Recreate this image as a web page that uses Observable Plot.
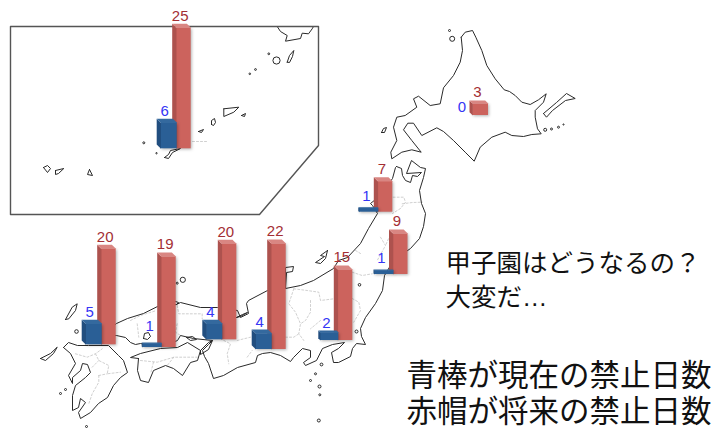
<!DOCTYPE html>
<html lang="ja">
<head>
<meta charset="utf-8">
<title>禁止日数</title>
<script src="https://cdn.jsdelivr.net/npm/d3@7"></script>
<script src="https://cdn.jsdelivr.net/npm/@observablehq/plot@0.6"></script>
<style>
  html, body { margin: 0; padding: 0; background: #fff; }
  svg { display: block; }
</style>
</head>
<body>
<div id="chart"></div>
<script>
// Number of banned days per region: current (blue) and future (red).
const regions = ["沖縄", "北海道", "東北北部", "東北南部", "関東甲信越", "東海", "近畿", "中国四国", "九州"];
const currentDays = [6, 0, 1, 1, 2, 4, 4, 1, 5];
const futureDays = [25, 3, 7, 9, 15, 22, 20, 19, 20];

// Where each region's column stands on the map, in map units.
const siteX = [171.7, 469, 373.3, 388.5, 333.3, 266.7, 217.3, 156.7, 96.7];
const siteY = [148.3, 115, 211.7, 274, 340, 349, 339.3, 347, 344.3];
const currentLabelLift = [7.5, 8, 11, 11.5, 7, 7.5, 7.5, 16, 7.5];

// Outline of the Okinawa inset box.
const insetFrame = [[10, 26], [318, 26], [318, 145], [259, 214], [10, 214], [10, 26]];

// Coastlines, in map units.
const hokkaido = [[460.7,36.7],[464.7,31.7],[472,30],[475.3,36.7],[481.3,50],[486.3,65],[494.7,78.3],[503.7,89.3],[509,91],[514.7,95],[521.3,101.7],[529.7,104],[538,99.3],[545.7,93.3],[543,101.7],[534.7,110],[534.7,116.7],[537,128.3],[540.7,133.3],[531.3,134],[523,136],[511.3,135],[504.7,131.7],[491.3,136.7],[479.7,146.7],[473.7,160.7],[464.7,151.7],[453,140],[443,131],[436.3,127.3],[421.3,135],[413,122.7],[407.3,122.7],[403,129.3],[411.3,140],[420.7,151.7],[411.3,149.3],[401.3,151.7],[391.3,158.3],[390.3,151.7],[396.3,140],[393,126.7],[396.3,116.7],[404.7,115],[416.3,106.7],[413,98.3],[418,95.7],[429.7,105],[439.7,103.3],[443,87.3],[453,75],[459.7,61.7],[462,50],[460.7,36.7]];
const honshu = [[396,166],[401,168],[402,175],[405,180],[410,182],[412,175],[417,176],[421,172],[406,173],[411,160],[420,167],[425,168],[423,177],[419,190],[421,203],[425,213],[423,226],[419,238],[410,248],[400,255],[390,265],[384,275],[382,290],[375,303],[365,317],[360,328],[361,336],[365,344],[356,343],[352,348],[350,356],[338,362],[333,362],[331,352],[338,348],[344,342],[332,344],[322,348],[316,360],[305,365],[303,362],[310,357],[310,350],[302,348],[293,357],[290,361],[280,355],[270,352],[262,353],[257,355],[255,362],[237,367],[223,375],[213,378],[208,363],[204,356],[202,350],[208,344],[212,340],[193,338],[180,335],[177,340],[165,345],[150,345],[140,343],[135,344],[130,342],[125,337],[116,335],[112,335],[110,328],[116,323],[127,318],[143,313],[157,306],[176,304],[180,302],[200,307],[217,307],[237,310],[240,317],[248,313],[246,303],[248,300],[267,290],[285,288],[285,267],[293,266],[292,271],[286,272],[285,288],[300,285],[313,280],[333,268],[338,260],[347,257],[360,243],[368,228],[377,213],[372,205],[370,203],[380,195],[392,178],[395,167],[396,166]];
const shikoku = [[138,358],[130,357],[140,353],[160,348],[177,347],[187,342],[200,350],[197,360],[190,362],[182,375],[173,368],[165,365],[153,370],[148,382],[140,380],[137,370],[138,358]];
const kyushu = [[63,347],[68,342],[77,345],[88,345],[108,345],[118,355],[123,360],[127,372],[120,377],[113,385],[107,397],[98,403],[90,412],[80,418],[78,412],[85,402],[80,398],[78,407],[72,410],[72,395],[75,385],[85,377],[90,372],[87,364],[82,363],[80,370],[72,377],[72,383],[68,375],[75,363],[70,353],[63,347]];
const islands = [
  // Kunashiri, Okushiri, Sado, Tsushima, Goto, Awaji, Shodoshima
  [[543,113],[556,102],[566,93],[574.7,98],[565,100],[552,110],[546,116.7],[543,113]],
  [[381,132],[383,128],[386,127],[384,132],[381,132]],
  [[327,250],[320,255],[324,256],[315,262],[320,263],[325,258],[327,250]],
  [[65,319],[71.7,306.7],[76.7,303.3],[75,310],[68.3,318.3],[65,319]],
  [[40,358],[50,353],[56.7,346.7],[53,353],[45,360],[40,358]],
  [[200,350],[208,342],[212,340],[208,349],[200,354],[200,350]],
  [[186,337],[192,336],[196,339],[190,340],[186,337]],
  // Inland Sea and Wakasa Bay scraps
  [[143,338],[144,333],[148,332],[150,336],[147,339],[143,338]],
  [[175,301],[178,302],[176,304]],
  [[236,317],[242,314],[247,312],[240,316],[236,317]],
  // Kyushu tip and the Nansei chain, inside the inset
  [[276.7,26],[280,31],[286.7,35],[285,40.7],[300,38],[301.7,32.7],[308,33.3],[311.7,28.3],[313,26]],
  [[286.7,61.7],[289,55],[293.3,50],[292,56],[289,62],[286.7,61.7]],
  [[223.3,108.3],[238.3,106.7],[233.3,111.7],[223.3,116],[223.3,108.3]],
  [[241,115],[245,113],[244,116],[241,115]],
  [[211,124],[211,120],[214,118],[215,122],[213,125],[211,124]],
  [[198,131],[203,129],[201,132],[198,131]],
  [[164,157],[168,154],[170,150],[180,148],[172,152],[168,158],[164,157]],
  [[43,167],[47,165],[50,168],[47,172],[43,167]],
  [[55,170],[63.3,168],[58,173],[55,174],[55,170]],
  [[89,169],[92,175],[87,174],[89,169]]
];

// Prefectural boundaries.
const borders = [
  [[392.7,196.7],[403.3,196.7],[405,201.7],[400,208],[392,213]],
  [[401.7,203.3],[412,202],[421.7,201.7]],
  [[380,236.7],[385,245],[376.7,260]],
  [[388,238.3],[385,245]],
  [[355,250],[360,253]],
  [[351.7,271.7],[361.7,275],[371.7,273.3]],
  [[351.7,298],[358.3,301.7],[360,310],[353.3,321.7]],
  [[293.3,288.3],[306.7,290],[318.3,291.7],[320,300],[333.3,298.3]],
  [[293.3,288.3],[288.3,303.3],[295,311.7],[300,323.3],[298.3,333.3],[303.3,340]],
  [[310,300],[310,311.7],[305,320],[300,323.3]],
  [[320,320],[310,328.3]],
  [[285,336.7],[293.3,336.7],[298.3,333.3]],
  [[223.3,340],[230,343.3],[226.7,353.3],[228.3,363.3]],
  [[236.7,340],[243.3,338.3],[250,336.7]],
  [[246.7,356.7],[251.7,350]],
  [[176.7,305],[178.3,313.3],[201.7,313.3],[201.7,318.3]],
  [[130,320],[140,315],[156,310]],
  [[176.7,323.3],[175,331.7],[180,335]],
  [[136.7,323.3],[138.3,336.7]],
  [[140,360],[156.7,361.7],[173.3,356.7],[196.7,356.7]],
  [[173.3,356.7],[166.7,365]],
  [[153,361.7],[150,373.3]],
  [[75,353.3],[86.7,356.7],[95,353.3],[101.7,348.3]],
  [[95,353.3],[98.3,360],[108.3,365],[106.7,373.3],[120,371.7]],
  [[98.3,375],[98.3,381.7],[91.7,393.3],[88.3,403.3]],
  [[98.3,375],[106.7,373.3]],
  [[91.7,366.7],[98.3,360]],
  [[192,141],[207,141]]
];

// Small islets drawn as rings: x, y, radius.
const islets = [
  [451.7,38.3,2.5],[449,30,1],[544.7,129.3,1.5],[551,128.5,1],[558,126.7,1],[563,124,0.6],
  [76,331,1.8],[182.3,279.3,2.6],[176.7,282.7,1],[359,284.3,1.3],[356,331,1.5],[60,393,1],[65,389,1],[86,426,1],
  [321,364,1.4],[315,373.3,1],[310,380,1],[319,386,1.5],[319.3,394.3,1],[318.3,420,1.5],
  [276,60,3.6],[268.3,53.3,0.9],[255,69,0.9],[249.3,73.3,0.8],[143.3,142.3,1],[156,152.7,0.7]
];

// Annotation lines.
const noteLines = ["甲子園はどうなるの？", "大変だ…", "青棒が現在の禁止日数", "赤帽が将来の禁止日数"];
const noteX = [445, 445, 406, 406];
const noteY = [263, 297, 376, 412];
const noteSize = [25.5, 25.5, 30.5, 30.5];

// Column geometry in map units; short columns get a shallower top face.
const unitsPerDay = 5;
const futureWidth = 19;
const currentWidth = 20.5;
const maxDepth = 4.3;
const currentOffset = -15.5;

const columns = (values, offset, width) =>
  regions.map((region, i) => {
    const left = siteX[i] + offset;
    const base = siteY[i];
    const rise = values[i] * unitsPerDay;
    const top = base - rise;
    const depth = Math.min(maxDepth, rise * 0.22);
    return { region, value: values[i], left, right: left + width, base, top, depth };
  });

const faceRows = (cols, shape) =>
  cols.filter((c) => c.value > 0).flatMap((c) => shape(c).map(([x, y]) => ({ x, y, z: c.region })));

const sideFace = (c) => [
  [c.left, c.top], [c.left + c.depth, c.top + c.depth],
  [c.left + c.depth, c.base], [c.left, c.base - c.depth]
];
const topFace = (c) => [
  [c.left, c.top], [c.right - c.depth, c.top],
  [c.right, c.top + c.depth], [c.left + c.depth, c.top + c.depth]
];

const columnMarks = (cols, front, side, lid) => [
  Plot.rect(cols.filter((c) => c.value > 0), {
    x1: (c) => c.left + c.depth, x2: "right",
    y1: (c) => c.top + c.depth, y2: "base",
    fill: front, imageFilter: "drop-shadow(1px 1.5px 1.5px rgba(0,0,0,0.3))"
  }),
  Plot.line(faceRows(cols, sideFace), { x: "x", y: "y", z: "z", fill: side, stroke: "none" }),
  Plot.line(faceRows(cols, topFace), { x: "x", y: "y", z: "z", fill: lid, stroke: "none" })
];

const pathRows = (paths) => paths.flatMap((path, id) => path.map(([x, y]) => ({ x, y, id })));

const futureColumns = columns(futureDays, 0, futureWidth);
const currentColumns = columns(currentDays, currentOffset, currentWidth);
const labelFont = "'Liberation Sans', Arial, sans-serif";
const noteFont = "'Liberation Sans', 'Noto Sans CJK JP', sans-serif";

const chart = Plot.plot({
  width: 716,
  height: 428,
  margin: 0,
  style: { background: "#fff" },
  x: { domain: [0, 716], range: [0, 716], axis: null },
  y: { domain: [0, 428], range: [0, 428], axis: null },
  r: { type: "identity" },
  marks: [
    // Boundaries and coasts
    Plot.line(pathRows(borders), { x: "x", y: "y", z: "id", stroke: "#c4c4c4", strokeWidth: 0.8, strokeDasharray: "2 2" }),
    Plot.line(pathRows([hokkaido, honshu, shikoku, kyushu, ...islands]), { x: "x", y: "y", z: "id", stroke: "#2a2a2a", strokeWidth: 1, strokeLinejoin: "round" }),
    Plot.dot(islets, { x: (d) => d[0], y: (d) => d[1], r: (d) => d[2], stroke: "#2a2a2a", strokeWidth: 1 }),
    Plot.line(insetFrame, { x: (d) => d[0], y: (d) => d[1], stroke: "#555", strokeWidth: 1.4 }),

    // Columns: red behind, blue in front
    ...columnMarks(futureColumns, "#cc635d", "#ad524e", "#d98682"),
    ...columnMarks(currentColumns, "#2a5f96", "#214e7f", "#34699e"),

    // Value labels
    Plot.text(futureColumns, {
      x: (c) => c.left + 8, y: (c) => c.top - 8, text: "value",
      fill: "#a32e34", fontSize: 15, fontFamily: labelFont
    }),
    Plot.text(currentColumns, {
      x: (c) => c.left + 8, y: (c, i) => c.top - currentLabelLift[i], text: "value",
      fill: "#3535f5", fontSize: 15, fontFamily: labelFont
    }),

    // Annotations
    Plot.text(noteLines, {
      x: (d, i) => noteX[i], y: (d, i) => noteY[i], text: (d) => d,
      textAnchor: "start", fill: "#111", fontSize: (d, i) => noteSize[i], fontFamily: noteFont
    })
  ]
});

document.getElementById("chart").append(chart);
</script>
</body>
</html>
